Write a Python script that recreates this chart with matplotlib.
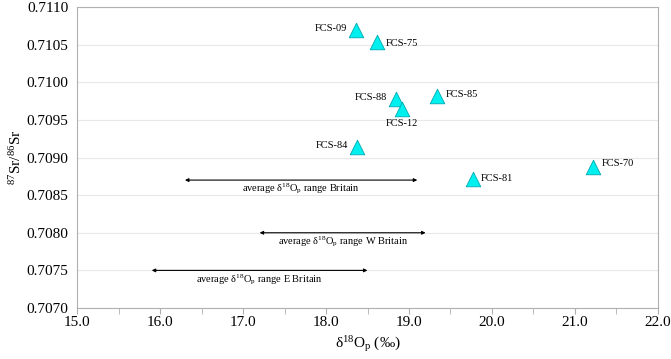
import numpy as np
import matplotlib.pyplot as plt

plt.rcParams['font.family'] = ['Liberation Serif', 'DejaVu Serif']
plt.rcParams['mathtext.fontset'] = 'stix'

# samples: d18O phosphate vs 87Sr/86Sr
samples = ['FCS-09', 'FCS-75', 'FCS-88', 'FCS-12', 'FCS-85', 'FCS-84', 'FCS-70', 'FCS-81']
d18o = [18.36, 18.62, 18.84, 18.91, 19.34, 18.37, 21.22, 19.77]
sr = [0.71070, 0.710535, 0.70978, 0.70964, 0.70982, 0.70914, 0.70887, 0.70872]
# label offsets in points (dx, dy) and alignment
lab_pos = [(-6, 1, 'right'), (6, -1, 'left'), (-6, 1, 'right'), (0, -10, 'center'),
           (6, 1, 'left'), (-6, 1, 'right'), (6, 3, 'left'), (6, 0, 'left')]

# average d18O ranges
range_names = ['Britain', 'W Britain', 'E Britain']
range_lo = [16.3, 17.2, 15.9]
range_hi = [19.1, 19.2, 18.5]
range_y = [0.7087, 0.7080, 0.7075]

fig = plt.figure(figsize=(6.71, 3.59), dpi=100)
ax = fig.add_axes([0.1148, 0.142, 0.8658, 0.8385])

ax.set_xlim(15, 22)
ax.set_ylim(0.7070, 0.7110)
ax.set_xticks(np.arange(15, 22.01, 1.0))
ax.set_xticks(np.arange(15.5, 22, 1.0), minor=True)
ax.set_yticks(np.arange(0.7070, 0.71101, 0.0005))
ax.set_xticklabels(['%.1f' % v for v in np.arange(15, 22.01, 1.0)])
ax.set_yticklabels(['%.4f' % v for v in np.arange(0.7070, 0.71101, 0.0005)])
ax.yaxis.grid(True, color='#e8e8e8', lw=0.8)
ax.set_axisbelow(True)
for s in ax.spines.values():
    s.set_color('#b0b0b0')
ax.tick_params(axis='x', which='both', direction='out', length=4, color='#b0b0b0',
               labelsize=11, pad=1.5)
ax.tick_params(axis='y', length=0, labelsize=11, pad=6)

ax.scatter(d18o, sr, marker='^', s=110, c='#00f0f0', edgecolors='#00a8b0', linewidths=0.6, zorder=3)

for name, x, y, (dx, dy, ha) in zip(samples, d18o, sr, lab_pos):
    ax.annotate(name, (x, y), xytext=(dx, dy), textcoords='offset points',
                ha=ha, va='center', fontsize=7.5)

for name, lo, hi, y in zip(range_names, range_lo, range_hi, range_y):
    ax.annotate('', xy=(lo, y), xytext=(hi, y),
                arrowprops=dict(arrowstyle='<|-|>', color='black', lw=0.8,
                                mutation_scale=5, shrinkA=0, shrinkB=0))
    ax.annotate(r'average $\mathregular{\delta^{18}O_p}$ range ' + name, ((lo + hi) / 2, y),
                xytext=(0, -6.5), textcoords='offset points', ha='center', va='center',
                fontsize=7.5)

ax.set_xlabel(r'$\mathregular{\delta^{18}O_p}$ (‰)', fontsize=11, labelpad=4)
ax.set_ylabel(r'$\mathregular{^{87}Sr/^{86}Sr}$', fontsize=11, labelpad=2)

fig.savefig('out.png', dpi=100)
